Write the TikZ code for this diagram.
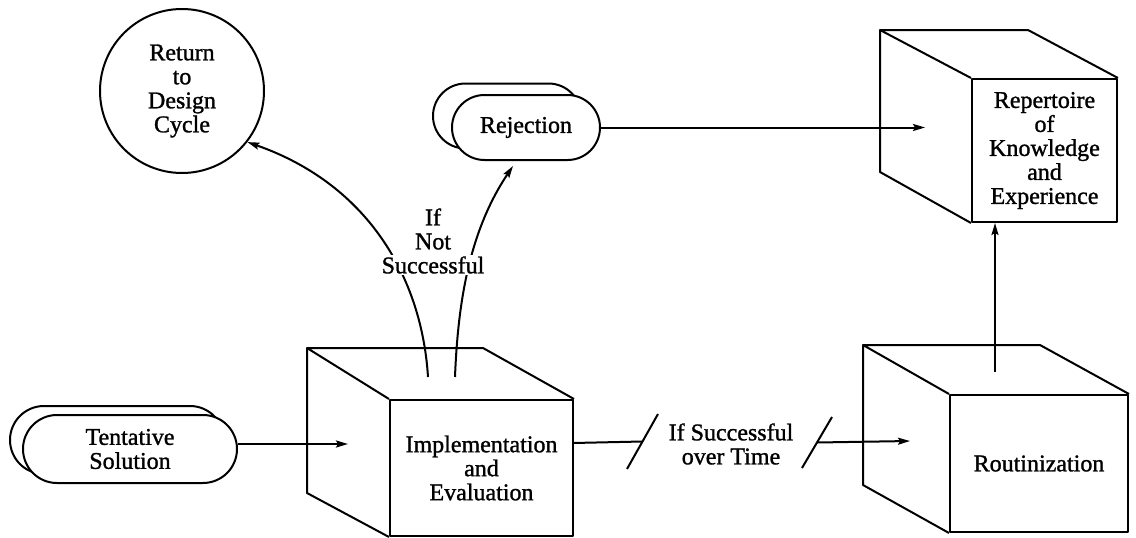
\documentclass[tikz,border=0pt]{standalone}
\usepackage{fontspec}
\setmainfont[FakeBold=1.2]{Liberation Serif}
\usetikzlibrary{shapes.misc,arrows.meta,calc}
\tikzset{
  ln/.style={line width=2pt, line join=round},
  arr/.style={ln, -{Stealth[length=12pt,width=7pt,inset=2pt]}},
  txt/.style={font=\fontsize{24}{24}\selectfont, align=center},
  pill/.style={ln, rounded rectangle, draw, fill=white, inner sep=0pt, txt},
  face/.style={ln, draw, fill=white, inner sep=0pt, txt}
}
\begin{document}
\begin{tikzpicture}[x=1pt,y=-1pt]
\useasboundingbox (0,0) rectangle (1136,538);

% ---- Return to Design Cycle
\node[ln, draw, circle, minimum size=164pt, inner sep=0pt, txt] (ret) at (182,91) {Return\\to\\Design\\Cycle};

% ---- Rejection (double pill)
\node[pill, minimum width=148pt, minimum height=65pt] (rejback) at (507,116) {};
\node[pill, minimum width=148pt, minimum height=65pt] (rej) at (526,127.5) {Rejection};

% ---- Tentative Solution (double pill)
\node[pill, minimum width=214pt, minimum height=68pt] (tentback) at (117,440) {};
\node[pill, minimum width=214pt, minimum height=68pt] (tent) at (130,449) {Tentative\\Solution};

% ---- Implementation and Evaluation box
\node[face, minimum width=183pt, minimum height=136pt] (impl) at (481.5,468) {Implementation\\and\\Evaluation};
\coordinate (imtl) at (307,348);
\coordinate (imtr) at (483,348);
\coordinate (imbl) at (307,493);
\draw[ln] (impl.north west) -- (imtl) -- (imtr) -- (impl.north east);
\draw[ln] (imtl) -- (imbl) -- (impl.south west);

% ---- Routinization box
\node[face, minimum width=178pt, minimum height=137pt] (rout) at (1039,463.5) {Routinization};
\coordinate (rotl) at (863,345);
\coordinate (rotr) at (1040,345);
\coordinate (robl) at (863,485);
\draw[ln] (rout.north west) -- (rotl) -- (rotr) -- (rout.north east);
\draw[ln] (rotl) -- (robl) -- (rout.south west);

% ---- Repertoire box
\node[face, minimum width=145pt, minimum height=143pt] (rep) at (1044.5,150.5) {Repertoire\\of\\Knowledge\\and\\Experience};
\coordinate (retl) at (880,30);
\coordinate (retr) at (1028,30);
\coordinate (rebl) at (880,172);
\draw[ln] (rep.north west) -- (retl) -- (retr) -- (rep.north east);
\draw[ln] (retl) -- (rebl) -- (rep.south west);

% ---- connectors
\coordinate (tentin) at (348,444);
\draw[arr] (tent.east |- tentin) -- (tentin);

\coordinate (repin) at (925,127.5);
\draw[arr] (rej.east) -- (repin);

\coordinate (routtop) at (995,372);
\draw[arr] (routtop) -- (rep.south -| routtop);

% if not successful curves
\coordinate (cl) at (428,377);
\coordinate (cr) at (455,377);
\draw[arr] (cl) .. controls (422,280) and (370,185) .. (ret.-38);
\draw[arr] (cr) .. controls (458,300) and (470,230) .. ($(rej.south)+(-13,5)$);
\node[txt] (ifnot) at (433,229) {If\\Not};
\node[txt, fill=white, inner sep=1pt] (succ) at (433,265) {Successful};

% if successful over time
\coordinate (implout) at (573,443);
\coordinate (s1a) at (627,469);
\coordinate (s1b) at (658,414);
\coordinate (s2a) at (802,468);
\coordinate (s2b) at (832,417);
\coordinate (routin) at (910,441);
\draw[ln] (implout) -- ($(s1a)!0.5!(s1b)$);
\draw[ln] (s1a) -- (s1b);
\draw[ln] (s2a) -- (s2b);
\draw[arr] ($(s2a)!0.5!(s2b)$) -- (routin);
\node[txt] (succtime) at (731,444) {If Successful\\over Time};
\end{tikzpicture}
\end{document}
